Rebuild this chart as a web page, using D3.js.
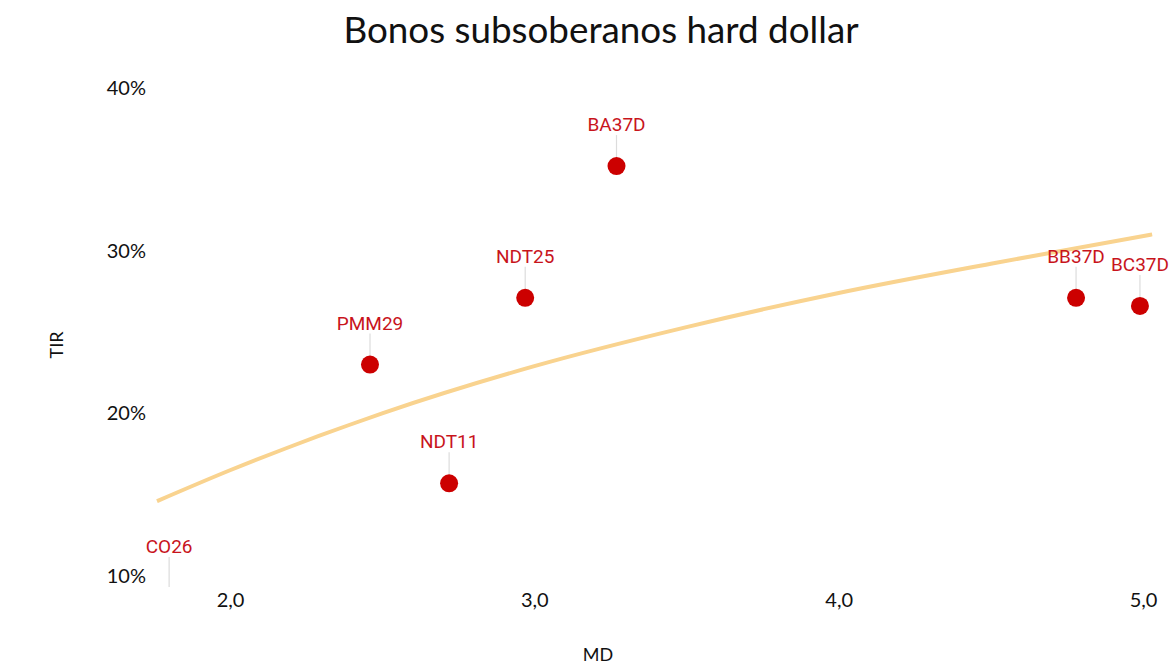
<!DOCTYPE html>
<html>
<head>
<meta charset="utf-8">
<script src="https://cdn.jsdelivr.net/npm/d3@7"></script>
<style>
  body { margin: 0; background: #fff; }
  text { font-family: "Lato", "Open Sans", sans-serif; }
  .lbl { font-family: Roboto, sans-serif; }
</style>
</head>
<body>
<div id="chart"></div>
<script>
// bonds: modified duration (MD) vs yield (TIR, %)
const bonds = ["BA37D", "NDT25", "PMM29", "NDT11", "BB37D", "BC37D", "CO26"];
const md    = [3.27, 2.97, 2.46, 2.72, 4.78, 4.99, 1.80];
const tir   = [35.2, 27.1, 23.0, 15.7, 27.1, 26.6, 8.0];

// trend line
const trendMd  = [1.76, 2.0, 2.5, 3.0, 3.5, 4.0, 4.5, 5.03];
const trendTir = [14.6, 16.5, 20.0, 22.9, 25.3, 27.4, 29.2, 31.0];

const xTicks = [2, 3, 4, 5];
const yTicks = [10, 20, 30, 40];

const W = 1176, H = 666;
let svg = d3.select("#chart")
  .append("svg")
    .attr("width", W)
    .attr("height", H);

let x = d3.scaleLinear().domain([2, 5]).range([230, 1143]);
let y = d3.scaleLinear().domain([10, 40]).range([576, 88]);

// plot area clip
svg.append("clipPath").attr("id", "plot")
  .append("rect")
    .attr("x", 150).attr("y", 60)
    .attr("width", 1020).attr("height", 527);

// title
svg.append("text")
  .attr("x", 601).attr("y", 43)
  .attr("text-anchor", "middle")
  .attr("font-size", "36.8px")
  .attr("fill", "#111")
  .text("Bonos subsoberanos hard dollar");

// y axis (labels only)
let yAxis = svg.append("g")
  .attr("transform", "translate(146,0)")
  .call(d3.axisLeft(y).tickValues(yTicks).tickSize(0).tickPadding(0).tickFormat(d => d + "%"));
yAxis.select(".domain").remove();
yAxis.selectAll("text").attr("font-size", "20px").attr("fill", "#111").attr("font-family", "Lato");

// x axis (labels only)
let xAxis = svg.append("g")
  .attr("transform", "translate(0,593)")
  .call(d3.axisBottom(x).tickValues(xTicks).tickSize(0).tickPadding(0)
    .tickFormat(d => d3.format(".1f")(d).replace(".", ",")));
xAxis.select(".domain").remove();
xAxis.selectAll("text").attr("font-size", "20px").attr("fill", "#111").attr("font-family", "Lato");

// axis titles
svg.append("text")
  .attr("transform", "translate(63,345) rotate(-90)")
  .attr("text-anchor", "middle")
  .attr("font-size", "18px")
  .attr("fill", "#111")
  .text("TIR");

svg.append("text")
  .attr("x", 598).attr("y", 661)
  .attr("text-anchor", "middle")
  .attr("font-size", "18px")
  .attr("fill", "#111")
  .text("MD");

let plot = svg.append("g").attr("clip-path", "url(#plot)");

// trend line
let trend = trendMd.map((d, i) => [d, trendTir[i]]);
plot.append("path")
  .datum(trend)
  .attr("fill", "none")
  .attr("stroke", "#F9D38F")
  .attr("stroke-width", 4)
  .attr("d", d3.line()
    .x(d => x(d[0]))
    .y(d => y(d[1]))
    .curve(d3.curveMonotoneX));

let data = bonds.map((b, i) => ({ name: b, md: md[i], tir: tir[i] }));
// labels sit above the dot, kept inside the plot
const labelY = d => Math.min(y(d.tir) - 42, 546);

// leader lines
plot.append("g")
  .selectAll("line")
  .data(data)
  .enter()
  .append("line")
    .attr("x1", d => x(d.md))
    .attr("x2", d => x(d.md))
    .attr("y1", d => labelY(d) + 11)
    .attr("y2", d => y(d.tir))
    .attr("stroke", "#dcdcdc")
    .attr("stroke-width", 1.2);

// dots
plot.append("g")
  .selectAll("circle")
  .data(data)
  .enter()
  .append("circle")
    .attr("cx", d => x(d.md))
    .attr("cy", d => y(d.tir))
    .attr("r", 9)
    .style("fill", "#CC0000");

// point labels
svg.append("g")
  .selectAll("text")
  .data(data)
  .enter()
  .append("text")
    .attr("class", "lbl")
    .attr("x", d => x(d.md))
    .attr("y", d => labelY(d) + 7)
    .attr("text-anchor", "middle")
    .attr("font-size", "19px")
    .attr("fill", "#C8141C")
    .text(d => d.name);
</script>
</body>
</html>
